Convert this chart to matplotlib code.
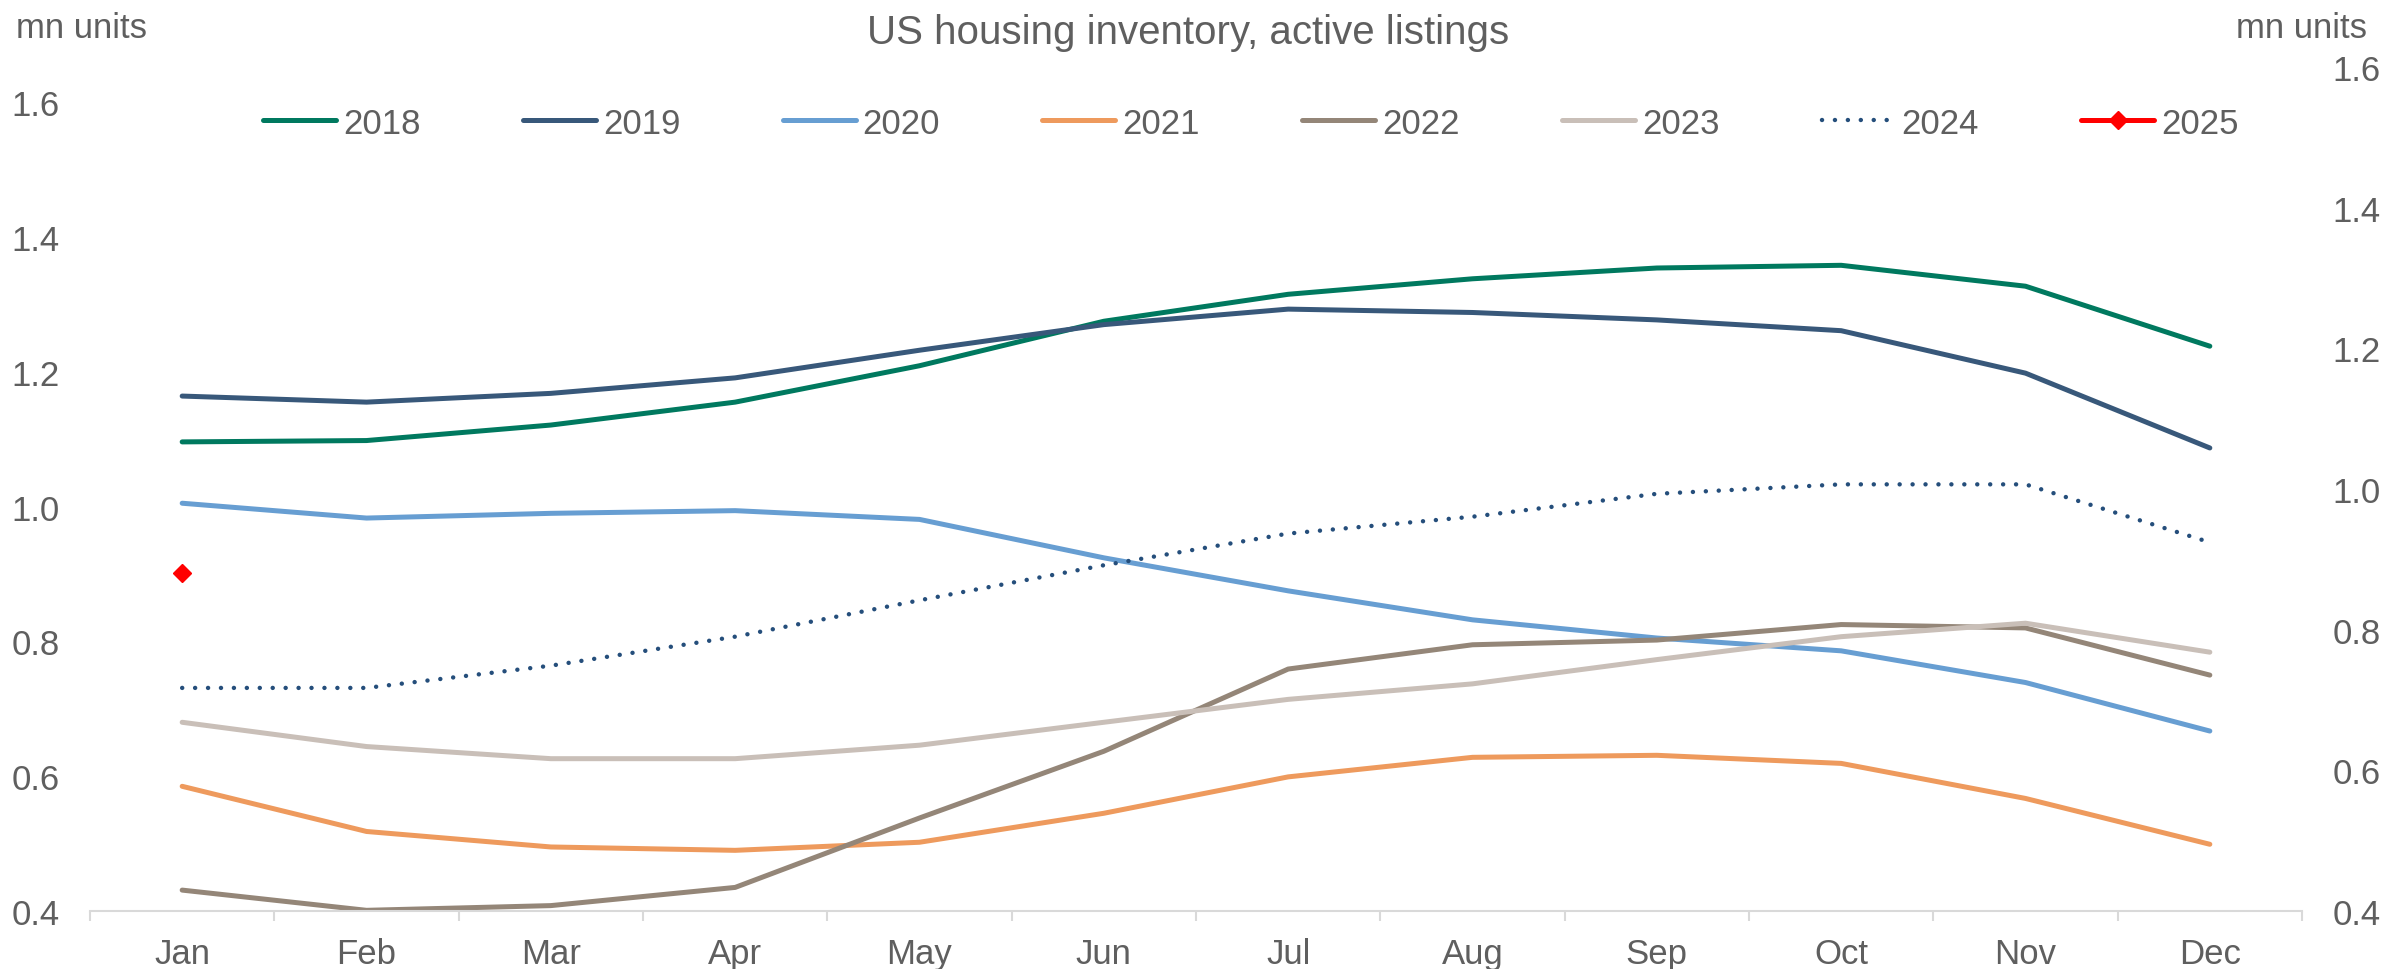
import matplotlib.pyplot as plt
from matplotlib.ticker import FixedLocator
import numpy as np

plt.rcParams['font.family'] = ['Liberation Sans', 'DejaVu Sans']

months = ['Jan', 'Feb', 'Mar', 'Apr', 'May', 'Jun', 'Jul', 'Aug', 'Sep', 'Oct', 'Nov', 'Dec']

# active listings, mn units
y2018 = [1.096, 1.098, 1.121, 1.155, 1.209, 1.275, 1.315, 1.338, 1.354, 1.358, 1.327, 1.238]
y2019 = [1.164, 1.155, 1.168, 1.191, 1.232, 1.270, 1.293, 1.288, 1.277, 1.261, 1.198, 1.087]
y2020 = [1.005, 0.983, 0.990, 0.994, 0.981, 0.924, 0.875, 0.832, 0.805, 0.786, 0.739, 0.667]
y2021 = [0.585, 0.518, 0.495, 0.490, 0.502, 0.545, 0.599, 0.628, 0.631, 0.619, 0.567, 0.499]
y2022 = [0.431, 0.401, 0.408, 0.435, 0.538, 0.637, 0.759, 0.795, 0.802, 0.825, 0.820, 0.750]
y2023 = [0.680, 0.644, 0.626, 0.626, 0.646, 0.680, 0.714, 0.737, 0.773, 0.807, 0.827, 0.784]
y2024 = [0.731, 0.731, 0.764, 0.807, 0.861, 0.913, 0.960, 0.985, 1.019, 1.033, 1.033, 0.947]
y2025 = [0.902] + [np.nan] * 11

txt = '#5f5f5f'
fs = 25

fig = plt.figure(figsize=(23.87, 9.70), dpi=100)
ax = fig.add_axes([90/2387, 1 - 912/970, (2302-90)/2387, (912-68)/970])
x = np.arange(12)

kw = dict(lw=3.6, solid_capstyle='round', solid_joinstyle='round')
ax.plot(x, y2018, color='#00795F', label='2018', **kw)
ax.plot(x, y2019, color='#38587A', label='2019', **kw)
ax.plot(x, y2020, color='#679ED2', label='2020', **kw)
ax.plot(x, y2021, color='#EE9A5D', label='2021', **kw)
ax.plot(x, y2022, color='#948678', label='2022', **kw)
ax.plot(x, y2023, color='#C9BFB8', label='2023', **kw)
ax.plot(x, y2024, color='#254E7B', lw=3.2, label='2024', linestyle=(0, (0.01, 2.9)),
        dash_capstyle='round')
ax.plot(x, y2025, color='#FF0000', label='2025', marker='D', markersize=9, **kw)

ax.set_xlim(-0.5, 11.5)
ax.set_ylim(0.4, 0.4 + (912 - 68) / 674)
ax.set_yticks([0.4, 0.6, 0.8, 1.0, 1.2, 1.4, 1.6])
ax.set_yticklabels(['0.4', '0.6', '0.8', '1.0', '1.2', '1.4', '1.6'])
ax.set_xticks(x)
ax.set_xticklabels(months)
ax.xaxis.set_minor_locator(FixedLocator(np.arange(-0.5, 12, 1)))
ax.tick_params(axis='x', which='major', length=0, pad=19, labelsize=fs, labelcolor=txt)
ax.tick_params(axis='x', which='minor', length=7.5, width=1.5, color='#d9d9d9')
ax.tick_params(axis='y', length=0, pad=22, labelsize=fs, labelcolor=txt)
for s in ['top', 'left', 'right']:
    ax.spines[s].set_visible(False)
ax.spines['bottom'].set_color('#d9d9d9')
ax.spines['bottom'].set_linewidth(1.5)

ax2 = ax.twinx()
ax2.set_ylim(0.4, 1.6)
ax2.set_yticks([0.4, 0.6, 0.8, 1.0, 1.2, 1.4, 1.6])
ax2.set_yticklabels(['0.4', '0.6', '0.8', '1.0', '1.2', '1.4', '1.6'])
ax2.tick_params(axis='y', length=0, pad=22, labelsize=fs, labelcolor=txt)
for s in ['top', 'left', 'right', 'bottom']:
    ax2.spines[s].set_visible(False)

handles, labels = ax.get_legend_handles_labels()
fig.legend(handles, labels, loc='center', bbox_to_anchor=(1251/2387, 1 - 124/970), ncol=8,
           frameon=False, fontsize=fs, labelcolor=txt, handlelength=2.1, handletextpad=0.2,
           columnspacing=2.95, borderpad=0)

fig.text(1188/2387, 1 - 33/970, 'US housing inventory, active listings', ha='center', va='center',
         fontsize=29, color=txt)
fig.text(16/2387, 1 - 28/970, 'mn units', ha='left', va='center', fontsize=fs, color=txt)
fig.text(2367/2387, 1 - 28/970, 'mn units', ha='right', va='center', fontsize=fs, color=txt)

fig.savefig('out.png', dpi=100)
